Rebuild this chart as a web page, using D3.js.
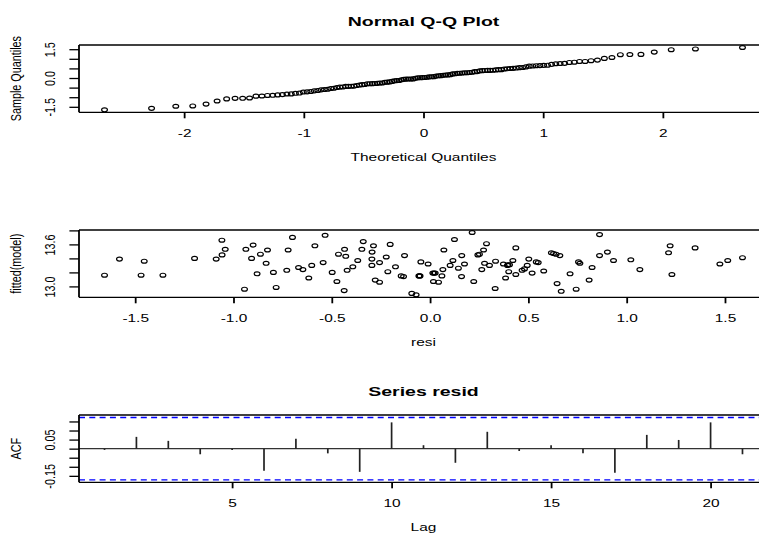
<!DOCTYPE html>
<html>
<head>
<meta charset="utf-8">
<script src="https://cdn.jsdelivr.net/npm/d3@7"></script>
<style>
  body { margin: 0; background: #fff; }
  text { font-family: "Liberation Sans", Arial, sans-serif; fill: #000; }
</style>
</head>
<body>
<div id="chart"></div>
<script>
// Residuals and fitted values (n = 130)
const resi = [
  -1.656, -1.580, -1.470, -1.454, -1.359, -1.198, -1.088, -1.059, -1.058, -1.042,
  -0.944, -0.937, -0.908, -0.900, -0.880, -0.863, -0.834, -0.827, -0.797, -0.783,
  -0.729, -0.722, -0.700, -0.669, -0.647, -0.617, -0.602, -0.586, -0.544, -0.534,
  -0.498, -0.474, -0.466, -0.437, -0.435, -0.429, -0.422, -0.393, -0.368, -0.347,
  -0.340, -0.295, -0.296, -0.296, -0.288, -0.279, -0.257, -0.257, -0.223, -0.215,
  -0.203, -0.176, -0.147, -0.135, -0.130, -0.093, -0.071, -0.057, -0.051, -0.047,
  -0.010, 0.014, 0.017, 0.026, 0.043, 0.060, 0.065, 0.070, 0.102, 0.116,
  0.124, 0.144, 0.160, 0.161, 0.175, 0.214, 0.222, 0.243, 0.251, 0.263,
  0.272, 0.277, 0.287, 0.302, 0.331, 0.333, 0.373, 0.384, 0.394, 0.400,
  0.404, 0.421, 0.436, 0.436, 0.468, 0.480, 0.494, 0.502, 0.519, 0.540,
  0.550, 0.578, 0.617, 0.628, 0.641, 0.646, 0.660, 0.667, 0.712, 0.743,
  0.755, 0.762, 0.809, 0.824, 0.862, 0.862, 0.902, 0.933, 1.021, 1.067,
  1.213, 1.221, 1.230, 1.348, 1.474, 1.514, 1.589,
  -0.054, 0.020, 0.396
];
const fitted = [
  13.16, 13.39, 13.16, 13.36, 13.16, 13.40, 13.39, 13.66, 13.45, 13.53,
  12.96, 13.53, 13.40, 13.59, 13.18, 13.46, 13.33, 13.52, 13.20, 12.985,
  13.23, 13.52, 13.70, 13.27, 13.24, 13.12, 13.30, 13.58, 13.34, 13.73,
  13.20, 13.07, 13.46, 12.94, 13.53, 13.43, 13.23, 13.28, 13.37, 13.53,
  13.64, 13.49, 13.39, 13.30, 13.58, 13.09, 13.34, 13.06, 13.42, 13.21,
  13.60, 13.28, 13.15, 13.14, 13.44, 12.90, 12.88, 13.15, 13.15, 13.35,
  13.32, 13.19, 13.07, 13.19, 13.06, 13.15, 13.24, 13.52, 13.30, 13.37,
  13.67, 13.26, 13.14, 13.44, 13.32, 13.77, 13.07, 13.45, 13.46, 13.24,
  13.52, 13.33, 13.61, 13.30, 12.97, 13.36, 13.32, 13.12, 13.30, 13.21,
  13.31, 13.37, 13.17, 13.55, 13.23, 13.25, 13.30, 13.39, 13.19, 13.35,
  13.34, 13.22, 13.48, 13.47, 13.46, 13.04, 13.44, 12.93, 13.18, 12.96,
  13.35, 13.33, 13.09, 13.27, 13.74, 13.44, 13.49, 13.37, 13.38, 13.24,
  13.48, 13.58, 13.17, 13.55, 13.32, 13.37, 13.41,
  13.15, 13.19, 13.31
];

// ACF of the residuals, lags 1..21
const acfLag = d3.range(1, 22);
const acfVal = [-0.007, 0.065, 0.043, -0.031, -0.007, -0.122, 0.054, -0.026, -0.128, 0.145,
                0.019, -0.078, 0.093, -0.013, 0.019, -0.026, -0.133, 0.076, 0.048, 0.145, -0.031];

// Ticks and labels
const qqXTicks = [-2, -1, 0, 1, 2];
const qqXLabels = ["-2", "-1", "0", "1", "2"];
const qqYTicks = [-1.5, -1, -0.5, 0, 0.5, 1, 1.5];
const qqYLabels = ["-1.5", "", "", "0.0", "", "", "1.5"];
const scXTicks = [-1.5, -1, -0.5, 0, 0.5, 1, 1.5];
const scXLabels = ["-1.5", "-1.0", "-0.5", "0.0", "0.5", "1.0", "1.5"];
const scYTicks = [13.0, 13.2, 13.4, 13.6, 13.8];
const scYLabels = ["13.0", "", "", "13.6", ""];
const acfXTicks = [5, 10, 15, 20];
const acfXLabels = ["5", "10", "15", "20"];
const acfYTicks = [-0.15, -0.1, -0.05, 0, 0.05, 0.1, 0.15];
const acfYLabels = ["-0.15", "", "", "", "0.05", "", ""];

const width = 759, height = 534;
const left = 79, right = 768;
const panelTop = [45, 230, 415];
const boxH = 67.3;
const SX = 1.43;          // picture is stretched sideways
const fs = 10.8;

const svg = d3.select("#chart").append("svg")
    .attr("width", width)
    .attr("height", height);

// R style range extension (4%)
function ext(lo, hi) {
    const r = hi - lo;
    return [lo - 0.04 * r, hi + 0.04 * r];
}

// inverse normal cdf (Acklam)
function qnorm(p) {
    const a = [-3.969683028665376e+01, 2.209460984245205e+02, -2.759285104469687e+02, 1.383577518672690e+02, -3.066479806614716e+01, 2.506628277459239e+00];
    const b = [-5.447609879822406e+01, 1.615858368580409e+02, -1.556989798598866e+02, 6.680131188771972e+01, -1.328068155288572e+01];
    const c = [-7.784894002430293e-03, -3.223964580411365e-01, -2.400758277161838e+00, -2.549732539343734e+00, 4.374664141464968e+00, 2.938163982698783e+00];
    const d = [7.784695709041462e-03, 3.224671290700398e-01, 2.445134137142996e+00, 3.754408661907416e+00];
    const pl = 0.02425;
    if (p < pl) {
        const q = Math.sqrt(-2 * Math.log(p));
        return (((((c[0]*q+c[1])*q+c[2])*q+c[3])*q+c[4])*q+c[5]) / ((((d[0]*q+d[1])*q+d[2])*q+d[3])*q+1);
    }
    if (p > 1 - pl) return -qnorm(1 - p);
    const q = p - 0.5, r = q * q;
    return (((((a[0]*r+a[1])*r+a[2])*r+a[3])*r+a[4])*r+a[5])*q / (((((b[0]*r+b[1])*r+b[2])*r+b[3])*r+b[4])*r+1);
}

function drawBox(g, top) {
    const bottom = top + boxH;
    g.append("line").attr("x1", left).attr("x2", right).attr("y1", top).attr("y2", top)
        .attr("stroke", "#000").attr("stroke-width", 1.3);
    g.append("line").attr("x1", left).attr("x2", right).attr("y1", bottom).attr("y2", bottom)
        .attr("stroke", "#000").attr("stroke-width", 1.3);
    g.append("line").attr("x1", left).attr("x2", left).attr("y1", top).attr("y2", bottom)
        .attr("stroke", "#000").attr("stroke-width", 1.8);
}

function xAxis(g, scale, top, ticks, labels) {
    const ax = g.append("g")
        .attr("transform", `translate(0, ${top + boxH})`)
        .call(d3.axisBottom(scale).tickValues(ticks).tickSize(6).tickSizeOuter(0)
            .tickFormat((d, i) => labels[i]));
    ax.select(".domain").remove();
    ax.selectAll(".tick line").attr("stroke", "#000").attr("stroke-width", 1.8);
    ax.selectAll(".tick text")
        .attr("y", null).attr("dy", null)
        .attr("transform", `translate(0, 24.5) scale(${SX}, 1)`)
        .style("font-size", fs + "px")
        .style("font-family", '"Liberation Sans", Arial, sans-serif')
        .attr("fill", "#000");
}

function yAxis(g, scale, ticks, labels) {
    const ax = g.append("g")
        .attr("transform", `translate(${left}, 0)`)
        .call(d3.axisLeft(scale).tickValues(ticks).tickSize(9.6).tickSizeOuter(0)
            .tickFormat((d, i) => labels[i]));
    ax.select(".domain").remove();
    ax.selectAll(".tick line").attr("stroke", "#000").attr("stroke-width", 1.3);
    ax.selectAll(".tick text")
        .attr("x", null).attr("dy", null)
        .attr("text-anchor", "middle")
        .attr("transform", `translate(-24, 0) scale(${SX}, 1) rotate(-90)`)
        .style("font-size", fs + "px")
        .style("font-family", '"Liberation Sans", Arial, sans-serif')
        .attr("fill", "#000");
}

function label(g, x, y, txt, opts = {}) {
    const rot = opts.rotate ? " rotate(-90)" : "";
    const sx = opts.sx || SX;
    g.append("text")
        .attr("transform", `translate(${x}, ${y}) scale(${sx}, 1)${rot}`)
        .attr("text-anchor", "middle")
        .style("font-size", (opts.size || fs) + "px")
        .style("font-weight", opts.bold ? "bold" : "normal")
        .text(txt);
}

const cx = (left + right) / 2;

// ---------- Panel 1: Normal Q-Q plot ----------
const n = resi.length;
const sample = resi.slice().sort(d3.ascending);
const theo = sample.map((d, i) => qnorm((i + 1 - 0.5) / n));
const qq = sample.map((d, i) => ({x: theo[i], y: d}));

const g1 = svg.append("g");
const x1 = d3.scaleLinear().domain(ext(d3.min(theo), d3.max(theo))).range([left, right]);
const y1 = d3.scaleLinear().domain(ext(d3.min(sample), d3.max(sample))).range([panelTop[0] + boxH, panelTop[0]]);

g1.selectAll("ellipse")
    .data(qq)
    .enter()
    .append("ellipse")
    .attr("cx", d => x1(d.x))
    .attr("cy", d => y1(d.y))
    .attr("rx", 2.9).attr("ry", 1.95)
    .attr("fill", "none").attr("stroke", "#000").attr("stroke-width", 1.2);

drawBox(g1, panelTop[0]);
xAxis(g1, x1, panelTop[0], qqXTicks, qqXLabels);
yAxis(g1, y1, qqYTicks, qqYLabels);
label(g1, cx, panelTop[0] - 19.3, "Normal Q-Q Plot", {bold: true, size: 13, sx: 1.5});
label(g1, cx, panelTop[0] + boxH + 49, "Theoretical Quantiles");
label(g1, 21, panelTop[0] + boxH / 2, "Sample Quantiles", {rotate: true});

// ---------- Panel 2: fitted vs resi ----------
const pts = resi.map((d, i) => ({x: d, y: fitted[i]}));
const g2 = svg.append("g");
const x2 = d3.scaleLinear().domain(ext(d3.min(resi), d3.max(resi))).range([left, right]);
const y2 = d3.scaleLinear().domain(ext(d3.min(fitted), d3.max(fitted))).range([panelTop[1] + boxH, panelTop[1]]);

g2.selectAll("ellipse")
    .data(pts)
    .enter()
    .append("ellipse")
    .attr("cx", d => x2(d.x))
    .attr("cy", d => y2(d.y))
    .attr("rx", 2.9).attr("ry", 1.95)
    .attr("fill", "none").attr("stroke", "#000").attr("stroke-width", 1.2);

drawBox(g2, panelTop[1]);
xAxis(g2, x2, panelTop[1], scXTicks, scXLabels);
yAxis(g2, y2, scYTicks, scYLabels);
label(g2, cx, panelTop[1] + boxH + 49, "resi");
label(g2, 21, panelTop[1] + boxH / 2, "fitted(model)", {rotate: true});

// ---------- Panel 3: ACF ----------
const ci = qnorm(0.975) / Math.sqrt(n);
const g3 = svg.append("g");
const x3 = d3.scaleLinear().domain(ext(d3.min(acfLag), d3.max(acfLag))).range([left, right]);
const y3 = d3.scaleLinear()
    .domain(ext(Math.min(-ci, d3.min(acfVal)), Math.max(ci, d3.max(acfVal))))
    .range([panelTop[2] + boxH, panelTop[2]]);

g3.append("line")
    .attr("x1", left).attr("x2", right)
    .attr("y1", y3(0)).attr("y2", y3(0))
    .attr("stroke", "#333").attr("stroke-width", 1.3);

[ci, -ci].forEach(v => {
    g3.append("line")
        .attr("x1", left).attr("x2", right)
        .attr("y1", y3(v)).attr("y2", y3(v))
        .attr("stroke", "#0000ff").attr("stroke-width", 1.3)
        .attr("stroke-dasharray", "6,4.3");
});

g3.selectAll(".spike")
    .data(acfLag)
    .enter()
    .append("line")
    .attr("class", "spike")
    .attr("x1", d => x3(d)).attr("x2", d => x3(d))
    .attr("y1", y3(0))
    .attr("y2", (d, i) => y3(acfVal[i]))
    .attr("stroke", "#222").attr("stroke-width", 1.7);

drawBox(g3, panelTop[2]);
xAxis(g3, x3, panelTop[2], acfXTicks, acfXLabels);
yAxis(g3, y3, acfYTicks, acfYLabels);
label(g3, cx, panelTop[2] - 19, "Series resid", {bold: true, size: 13, sx: 1.5});
label(g3, cx, panelTop[2] + boxH + 48.5, "Lag");
label(g3, 21, panelTop[2] + boxH / 2, "ACF", {rotate: true});
</script>
</body>
</html>
